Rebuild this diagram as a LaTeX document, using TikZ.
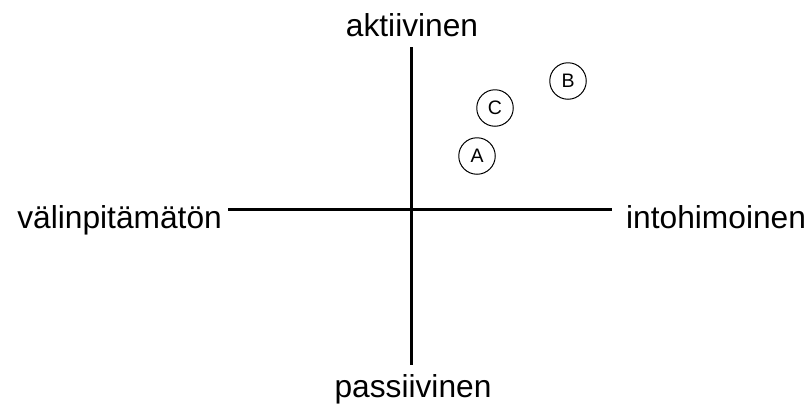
\documentclass[tikz,border=0pt]{standalone}
\usepackage{fontspec}
\setmainfont{Liberation Sans}
\begin{document}
\begin{tikzpicture}[x=1pt,y=-1pt,
  axis/.style={line width=3pt},
  lbl/.style={inner sep=0pt,font=\fontsize{31.7}{38}\selectfont},
  pt/.style={circle,draw,line width=1pt,minimum size=36.5pt,inner sep=0pt,font=\fontsize{19.5}{23}\selectfont}]
\useasboundingbox (0,0) rectangle (811,410);
\coordinate (L) at (228,209);
\coordinate (R) at (612,209);
\coordinate (T) at (411,47);
\coordinate (B) at (411,365);
\draw[axis] (L) -- (R);
\draw[axis] (T) -- (B);
\node[lbl,anchor=base] (top) at (412,36) {aktiivinen};
\node[lbl,anchor=base] (bot) at (413,397) {passiivinen};
\node[lbl,anchor=base east] (lft) at (222,228) {välinpitämätön};
\node[lbl,anchor=base west] (rgt) at (626,228) {intohimoinen};
\node[pt] (a) at (477,156) {A};
\node[pt] (c) at (495,108) {C};
\node[pt] (b) at (568,81) {B};
\end{tikzpicture}
\end{document}
